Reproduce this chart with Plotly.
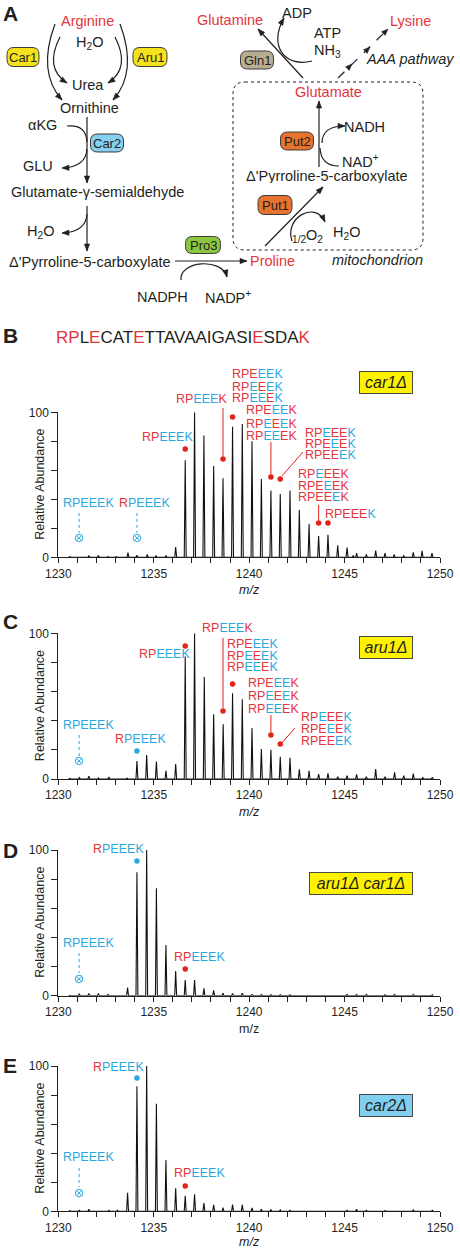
import math
import plotly.graph_objects as go

W, H = 460, 1248
FONT = "Arial, 'Liberation Sans', Helvetica, sans-serif"
RED = "#e4353d"
BLUE = "#2aa9e0"
DOTRED = "#e2231a"
INK = "#231f20"

# ---------------- spectra data ----------------
mz_B = [1230.6, 1231.1, 1231.6, 1232.1, 1232.6, 1233.05, 1233.65, 1234.12, 1234.66, 1235.12, 1235.64,
        1236.15, 1236.65, 1237.14, 1237.63, 1238.14, 1238.63, 1239.13, 1239.64, 1240.15, 1240.64,
        1241.14, 1241.63, 1242.14, 1242.63, 1243.14, 1243.64, 1244.13, 1244.64, 1245.13, 1245.45,
        1245.63, 1246.14, 1246.63, 1247.12, 1247.6, 1248.1, 1248.6, 1249.06, 1249.58]
ab_B = [0.5, 0.5, 1.0, 1.2, 0.6, 0.4, 3.2, 1.4, 2.0, 1.0, 1.2,
        7.0, 67, 100, 84, 63, 54.5, 90, 92, 80, 54,
        46, 43.7, 46, 32.6, 23, 14.7, 15.6, 8.3, 6.7, 1.0,
        2.8, 2.0, 4.6, 2.8, 2.0, 1.0, 3.4, 4.4, 2.8]

mz_C = [1230.6, 1231.1, 1231.6, 1232.1, 1232.65, 1233.6, 1234.12, 1234.63, 1235.14, 1235.64,
        1236.15, 1236.65, 1237.14, 1237.65, 1238.14, 1238.64, 1239.13, 1239.64, 1240.15, 1240.64,
        1241.14, 1241.63, 1242.14, 1242.63, 1243.14, 1243.64, 1244.13, 1244.64, 1245.13, 1245.63,
        1246.14, 1246.63, 1247.12, 1247.62, 1248.1, 1248.6, 1249.1, 1249.6]
ab_C = [0.4, 1.0, 2.0, 0.8, 1.3, 0.6, 12.4, 16.5, 12, 5.7,
        10.3, 84, 100, 70, 44.4, 37.5, 58.8, 54.7, 35, 20.6,
        20, 15.3, 14.6, 6.6, 5.7, 3.4, 3.9, 1.6, 2.3, 3.2,
        1.6, 6.9, 1.6, 4.6, 2.3, 3.7, 1.0, 1.2]

mz_D = [1230.6, 1231.1, 1231.6, 1232.1, 1232.6, 1233.1, 1233.63, 1234.12, 1234.63, 1235.14, 1235.64,
        1236.15, 1236.65, 1237.14, 1237.63, 1238.14, 1238.63, 1239.13, 1239.64, 1240.15, 1240.64,
        1241.14, 1241.63, 1242.14, 1242.63, 1243.14, 1244.14, 1245.13, 1245.63, 1246.14, 1247.12,
        1247.62, 1248.6, 1249.6]
ab_D = [0.3, 1.4, 1.6, 1.6, 0.9, 0.5, 5.5, 84.7, 100, 73.7, 34.8,
        17, 10.8, 10.8, 5.0, 3.7, 1.8, 1.6, 1.8, 0.8, 0.8,
        0.6, 0.6, 0.6, 0.5, 0.5, 0.5, 0.9, 0.9, 0.9, 0.6,
        0.9, 0.9, 0.6]

mz_E = [1230.6, 1231.1, 1231.6, 1232.1, 1232.65, 1233.1, 1233.63, 1234.12, 1234.63, 1235.14, 1235.64,
        1236.15, 1236.65, 1237.14, 1237.63, 1238.14, 1238.63, 1239.13, 1239.64, 1240.15, 1240.64,
        1241.14, 1241.63, 1242.14, 1242.63, 1243.14, 1244.4, 1244.64, 1245.13, 1245.63, 1246.14,
        1247.12, 1248.6, 1249.6]
ab_E = [0.4, 0.7, 1.4, 0.4, 0.7, 0.7, 12.8, 86, 100, 74, 35.3,
        15.8, 10.6, 11.7, 5.7, 4.4, 2.5, 4.6, 4.4, 2.3, 1.4,
        1.2, 0.9, 0.7, 0.5, 0.5, 0.5, 0.5, 0.7, 1.4, 0.7,
        0.5, 0.9, 0.7]

# peptide labels: (m/z, height, colour code per letter r=red b=blue)
labels_B = [(1235.70, 83.0, "rrbbbb"), (1237.48, 109.2, "rrbbbr"),
            (1240.46, 127.1, "rrrbbb"), (1240.46, 118.1, "rrbrbb"), (1240.46, 109.9, "rrbbrb"),
            (1241.15, 101.6, "rrrbbr"), (1241.15, 92.6, "rrbrbr"), (1241.15, 84.3, "rrbbrr"),
            (1244.24, 86.4, "rrbrrb"), (1244.24, 78.8, "rrrbrb"), (1244.24, 70.6, "rrrrbb"),
            (1243.87, 58.1, "rrbrrr"), (1243.87, 49.2, "rrrbrr"), (1243.87, 41.6, "rrrrbr"),
            (1245.33, 29.9, "rrrrrb"), (1231.56, 38.1, "bbbbbb"), (1234.54, 38.1, "rbbbbb")]
labels_C = [(1235.59, 86.0, "rrbbbb"), (1238.89, 104.3, "rrbbbr"),
            (1240.20, 93.3, "rrrbbb"), (1240.20, 85.1, "rrbrbb"), (1240.20, 76.9, "rrbbrb"),
            (1241.25, 65.9, "rrrbbr"), (1241.25, 57.0, "rrbrbr"), (1241.25, 48.7, "rrbbrr"),
            (1244.03, 42.6, "rrbrrb"), (1244.03, 35.0, "rrrbrb"), (1244.03, 26.1, "rrrrbb"),
            (1231.56, 37.7, "bbbbbb"), (1234.33, 28.0, "rbbbbb")]
labels_D = [(1233.18, 100.7, "rbbbbb"), (1237.42, 26.6, "rrbbbb"), (1231.56, 36.2, "bbbbbb")]
labels_E = [(1233.18, 100.0, "rbbbbb"), (1237.42, 26.4, "rrbbbb"), (1231.56, 37.4, "bbbbbb")]

# marker dots (m/z, height, colour)
dots_B = [(1236.65, 74.7, "r"), (1238.63, 67.8, "r"), (1239.13, 96.8, "r"), (1241.14, 55.4, "r"),
          (1241.63, 54.0, "r"), (1243.64, 23.7, "r"), (1244.13, 23.7, "r")]
dots_C = [(1236.65, 91.3, "r"), (1238.63, 46.7, "r"), (1239.13, 65.2, "r"), (1241.14, 30.2, "r"),
          (1241.63, 24.0, "r"), (1234.12, 19.2, "b")]
dots_D = [(1234.12, 92.5, "b"), (1236.65, 18.3, "r")]
dots_E = [(1234.12, 91.7, "b"), (1236.65, 17.4, "r")]

# absent species (crossed) with dashed leader: (m/z, top, bottom, cross)
absent_B = [(1231.09, 30.6, 16.8, 13.3), (1234.12, 30.6, 16.8, 13.3)]
absent_C = [(1231.09, 30.2, 15.1, 12.4)]
absent_D = [(1231.09, 29.3, 15.6, 11.5)]
absent_E = [(1231.09, 29.8, 16.7, 12.6)]

# red leaders: (x_top, y_top, x_bottom, y_bottom)
leaders_B = [(1238.63, 103.0, 1238.63, 69.5), (1241.14, 79.5, 1241.14, 57.0),
             (1242.82, 72.6, 1241.72, 56.1), (1243.64, 36.1, 1243.64, 25.5)]
leaders_C = [(1238.63, 96.8, 1238.63, 48.5), (1241.14, 43.9, 1241.14, 32.0),
             (1242.40, 35.0, 1241.72, 24.9)]

panels = [
    dict(letter="B", mz=mz_B, ab=ab_B, labels=labels_B, dots=dots_B, absent=absent_B, leaders=leaders_B,
         top=412.3, bot=557.3, geno="car1Δ", gcol="#fff200", gx=386, gy=382, gw=50, italic=True, ly=336),
    dict(letter="C", mz=mz_C, ab=ab_C, labels=labels_C, dots=dots_C, absent=absent_C, leaders=leaders_C,
         top=633.3, bot=779.0, geno="aru1Δ", gcol="#fff200", gx=386, gy=647, gw=50, italic=True, ly=621),
    dict(letter="D", mz=mz_D, ab=ab_D, labels=labels_D, dots=dots_D, absent=absent_D, leaders=[],
         top=850.0, bot=995.7, geno="aru1Δ car1Δ", gcol="#fff200", gx=361, gy=883, gw=100, italic=False, ly=850),
    dict(letter="E", mz=mz_E, ab=ab_E, labels=labels_E, dots=dots_E, absent=absent_E, leaders=[],
         top=1066.0, bot=1211.3, geno="car2Δ", gcol="#80cfee", gx=386, gy=1105, gw=50, italic=True, ly=1065),
]

# ---------------- helpers ----------------
def px(x):
    return x / W


def py(y):
    return 1 - y / H


def P(x, y):
    return f"{x / W:.5f},{1 - y / H:.5f}"


def colored(code, word="RPEEEK"):
    cmap = {"r": RED, "b": BLUE, "k": INK}
    out, i = "", 0
    while i < len(word):
        j = i
        while j < len(word) and code[j] == code[i]:
            j += 1
        out += f"<span style='color:{cmap[code[i]]}'>{word[i:j]}</span>"
        i = j
    return out


def spikes(mz, ab, w=0.05):
    xs, ys = [], []
    for m, a in sorted(zip(mz, ab)):
        xs += [m - w, m, m + w]
        ys += [0, a, 0]
    return xs, ys


fig = go.Figure()
shapes, annos = [], []

# ---------------- panel A : pathway ----------------
def pline(points, width=1.2, dash=None, color=INK):
    d = "M" + P(*points[0]) + "".join(" L" + P(*p) for p in points[1:])
    shapes.append(dict(type="path", xref="paper", yref="paper", path=d,
                       line=dict(color=color, width=width, dash=dash)))


def pcurve(cmd, width=1.2, color=INK):
    shapes.append(dict(type="path", xref="paper", yref="paper", path=cmd,
                       line=dict(color=color, width=width)))


def head(tip, frm, L=7.0, hw=2.7, color=INK):
    dx, dy = tip[0] - frm[0], tip[1] - frm[1]
    n = math.hypot(dx, dy)
    ux, uy = dx / n, dy / n
    bx, by = tip[0] - L * ux, tip[1] - L * uy
    p1 = (bx + hw * uy, by - hw * ux)
    p2 = (bx - hw * uy, by + hw * ux)
    d = "M" + P(*tip) + " L" + P(*p1) + " L" + P(*p2) + " Z"
    shapes.append(dict(type="path", xref="paper", yref="paper", path=d,
                       fillcolor=color, line=dict(color=color, width=0.5)))


def quad(a, c, b, arrow=True):
    pcurve("M" + P(*a) + " Q" + P(*c) + " " + P(*b))
    if arrow:
        head(b, c)


def cubic(a, c1, c2, b, arrow=True):
    pcurve("M" + P(*a) + " C" + P(*c1) + " " + P(*c2) + " " + P(*b))
    if arrow:
        head(b, c2)


def arrow(a, b):
    pline([a, b])
    head(b, a)


def rrect(cx, cy, w, h, r, fill=None, line=INK, dash=None, width=1.0):
    x0, x1, y0, y1 = cx - w / 2, cx + w / 2, cy - h / 2, cy + h / 2
    d = ("M" + P(x0 + r, y0) + " L" + P(x1 - r, y0) + " Q" + P(x1, y0) + " " + P(x1, y0 + r)
         + " L" + P(x1, y1 - r) + " Q" + P(x1, y1) + " " + P(x1 - r, y1)
         + " L" + P(x0 + r, y1) + " Q" + P(x0, y1) + " " + P(x0, y1 - r)
         + " L" + P(x0, y0 + r) + " Q" + P(x0, y0) + " " + P(x0 + r, y0) + " Z")
    s = dict(type="path", xref="paper", yref="paper", path=d, line=dict(color=line, width=width, dash=dash))
    if fill:
        s["fillcolor"] = fill
    shapes.append(s)


def text(x, y, t, size=14.5, color=INK, anchor="center", italic=False, bold=False, height=None):
    if italic:
        t = f"<i>{t}</i>"
    if bold:
        t = f"<b>{t}</b>"
    a = dict(x=px(x), y=py(y), xref="paper", yref="paper", text=t, showarrow=False,
             xanchor=anchor, yanchor="middle", font=dict(size=size, color=color, family=FONT))
    if height:
        a["height"] = height
        a["borderpad"] = 0
    annos.append(a)


# mitochondrion box
rrect(328, 166, 190, 168, 12, line=INK, dash="dot", width=1.0)

# enzyme pills
pills = [("Car1", 23, 57, 32, 19, "#f3e21c"), ("Aru1", 150, 57, 34, 19, "#f3e21c"),
         ("Car2", 107, 143, 33, 18, "#86cfee"), ("Gln1", 257, 60, 33, 18, "#b9ad90"),
         ("Put2", 297, 141, 33, 18, "#e8732e"), ("Put1", 275, 205, 34, 19, "#e8732e"),
         ("Pro3", 203, 245, 35, 17, "#8cc63f")]
for name, cx, cy, w, h, col in pills:
    rrect(cx, cy, w, h, 7, fill=col, line="#3a3a3a", width=1.0)
    text(cx, cy, name, size=13, height=14)

# arrows left
quad((55, 24), (37, 72), (62, 100))
quad((60, 37), (44, 68), (67, 83))
quad((120, 24), (138, 72), (113, 100))
quad((115, 37), (131, 68), (108, 83))
arrow((87, 117), (87, 183))
quad((67, 126), (86, 124), (87, 142), arrow=False)
quad((87, 149), (86, 167), (62, 168))
arrow((87, 206), (87, 251))
quad((87, 214), (86, 232), (62, 233))
arrow((175, 261), (247, 261))
cubic((181, 280), (179, 261), (222, 257), (227, 277))

# arrows right
arrow((303, 78), (258, 29))
cubic((312, 61), (285, 68), (268, 46), (284, 18))
pline([(338, 78), (388, 29)], dash="dash")
head((352, 64), (338, 78), L=6.5, hw=2.6)
head((370, 47), (338, 78), L=6.5, hw=2.6)
head((388, 29), (338, 78), L=6.5, hw=2.6)
arrow((319, 167), (319, 101))
quad((322, 143), (322, 126), (345, 126))
quad((339, 166), (321, 166), (320, 148), arrow=False)
arrow((265, 246), (323, 187))
cubic((292, 241), (284, 218), (315, 200), (325, 222))

# pathway text
text(10, 14, "A", size=21, bold=True)
text(87, 21, "Arginine", color=RED)
text(89, 43, "H<sub>2</sub>O")
text(88, 85, "Urea")
text(89, 108, "Ornithine")
text(42, 125, "αKG")
text(38, 166, "GLU")
text(97, 192, "Glutamate-γ-semialdehyde")
text(40, 232, "H<sub>2</sub>O")
text(90, 262, "Δ'Pyrroline-5-carboxylate")
text(272, 261, "Proline", color=RED)
text(162, 297, "NADPH")
text(228, 297, "NADP<sup>+</sup>")
text(230, 20, "Glutamine", color=RED)
text(297, 13, "ADP")
text(410, 21, "Lysine", color=RED)
text(327, 33, "ATP")
text(327, 51, "NH<sub>3</sub>")
text(410, 59, "AAA pathway", italic=True)
text(328, 92, "Glutamate", color=RED)
text(364, 127, "NADH")
text(360, 161, "NAD<sup>+</sup>", height=14)
text(327, 176, "Δ'Pyrroline-5-carboxylate", height=14)
text(307, 236, "<sub>1/2</sub>O<sub>2</sub>")
text(346, 233, "H<sub>2</sub>O")
text(377, 260, "mitochondrion", italic=True)

# sequence in B
seq_word = "RPLECATETTAVAAIGASIESDAK"
seq_code = "rrkrkkkrkkkkkkkkkkkrkkkr"
text(183, 338, colored(seq_code, seq_word), size=17)

# ---------------- spectra panels ----------------
layout_axes = {}
for i, pn in enumerate(panels, start=1):
    sfx = "" if i == 1 else str(i)
    xr, yr = "x" + sfx, "y" + sfx
    ydom = [py(pn["bot"]), py(pn["top"])]
    layout_axes["xaxis" + sfx] = dict(
        domain=[px(58.3), px(440)], range=[1230, 1250], anchor=yr, showline=True, linecolor=INK,
        linewidth=1, ticks="outside", ticklen=5, tickwidth=1, tickcolor=INK, tickmode="linear",
        tick0=1230, dtick=5, minor=dict(ticks="outside", dtick=1, tick0=1230, ticklen=5, tickwidth=1,
                                        tickcolor=INK, showgrid=False),
        tickfont=dict(size=12, color=INK, family=FONT), showgrid=False,
        zeroline=False, fixedrange=True, automargin=False)
    layout_axes["yaxis" + sfx] = dict(
        domain=ydom, range=[0, 100], anchor=xr, showline=True, linecolor=INK, linewidth=1,
        ticks="outside", ticklen=6, tickwidth=1, tickcolor=INK, tickmode="linear", tick0=0, dtick=100,
        minor=dict(ticks="outside", dtick=20, tick0=0, ticklen=6, tickwidth=1, tickcolor=INK, showgrid=False),
        tickfont=dict(size=12, color=INK, family=FONT), showgrid=False, zeroline=False, fixedrange=True,
        automargin=False)

    def ypaper(v, d=ydom):
        # position of an axis value on the page, from the axis domain and its 0-100 range
        return d[0] + v / 100.0 * (d[1] - d[0])

    xs, ys = spikes(pn["mz"], pn["ab"])
    fig.add_trace(go.Scatter(x=xs, y=ys, mode="lines", line=dict(color="#111111", width=1.1),
                             xaxis=xr, yaxis=yr, hoverinfo="skip"))

    # dots
    for col, c in (("r", DOTRED), ("b", BLUE)):
        dd = [d for d in pn["dots"] if d[2] == col]
        if dd:
            fig.add_trace(go.Scatter(x=[d[0] for d in dd], y=[d[1] for d in dd], mode="markers",
                                     marker=dict(symbol="circle", size=5.5, color=c),
                                     cliponaxis=False, xaxis=xr, yaxis=yr, hoverinfo="skip"))
    # absent species
    for m, t, b, cy in pn["absent"]:
        shapes.append(dict(type="line", xref=xr, yref=yr, x0=m, x1=m, y0=t, y1=b,
                           line=dict(color=BLUE, width=1, dash="dot")))
    fig.add_trace(go.Scatter(x=[a[0] for a in pn["absent"]], y=[a[3] for a in pn["absent"]],
                             mode="markers", marker=dict(symbol="circle-x-open", size=7.5, color=BLUE,
                                                         line=dict(width=1, color=BLUE)),
                             cliponaxis=False, xaxis=xr, yaxis=yr, hoverinfo="skip"))
    # leaders
    for tx, ty, hx, hy in pn["leaders"]:
        shapes.append(dict(type="line", xref=xr, yref=yr, x0=tx, y0=min(ty, 100), x1=hx, y1=hy,
                           line=dict(color=DOTRED, width=1)))
        if ty > 100:
            shapes.append(dict(type="line", xref=xr, yref="paper", x0=tx, x1=tx, y0=ypaper(100),
                               y1=ypaper(ty), line=dict(color=DOTRED, width=1)))
    # labels
    for m, h, code in pn["labels"]:
        annos.append(dict(x=m, y=ypaper(h), xref=xr, yref="paper", text=colored(code), showarrow=False,
                          xanchor="center", yanchor="middle", height=11, borderpad=0,
                          font=dict(size=12.5, family=FONT)))
    # axis titles
    mz_t = "<i>m/z</i>" if pn["italic"] else "m/z"
    text(249, min(pn["bot"] + 33, 1241.5), mz_t, size=12.5, height=12)
    annos.append(dict(x=px(40), y=py((pn["top"] + pn["bot"]) / 2), xref="paper", yref="paper",
                      text="Relative Abundance", textangle=-90, showarrow=False, xanchor="center",
                      yanchor="middle", font=dict(size=12.5, color=INK, family=FONT)))
    # panel letter
    text(10, pn["ly"], pn["letter"], size=21, bold=True)
    # genotype box
    annos.append(dict(x=px(pn["gx"]), y=py(pn["gy"]), xref="paper", yref="paper",
                      text=f"<i>{pn['geno']}</i>", showarrow=False, xanchor="center", yanchor="middle",
                      width=pn["gw"], height=19, bgcolor=pn["gcol"], bordercolor="#4a4a4a",
                      borderwidth=1, borderpad=1, font=dict(size=16, color=INK, family=FONT)))

fig.update_layout(template="none", width=W, height=H, margin=dict(l=0, r=0, t=0, b=0, pad=0),
                  showlegend=False, paper_bgcolor="white", plot_bgcolor="white", shapes=shapes,
                  annotations=annos, font=dict(family=FONT, color=INK), **layout_axes)
fig.write_html("out.html", config={"displayModeBar": False},
               post_script="document.body.style.margin='0px';document.body.style.overflow='hidden';")
